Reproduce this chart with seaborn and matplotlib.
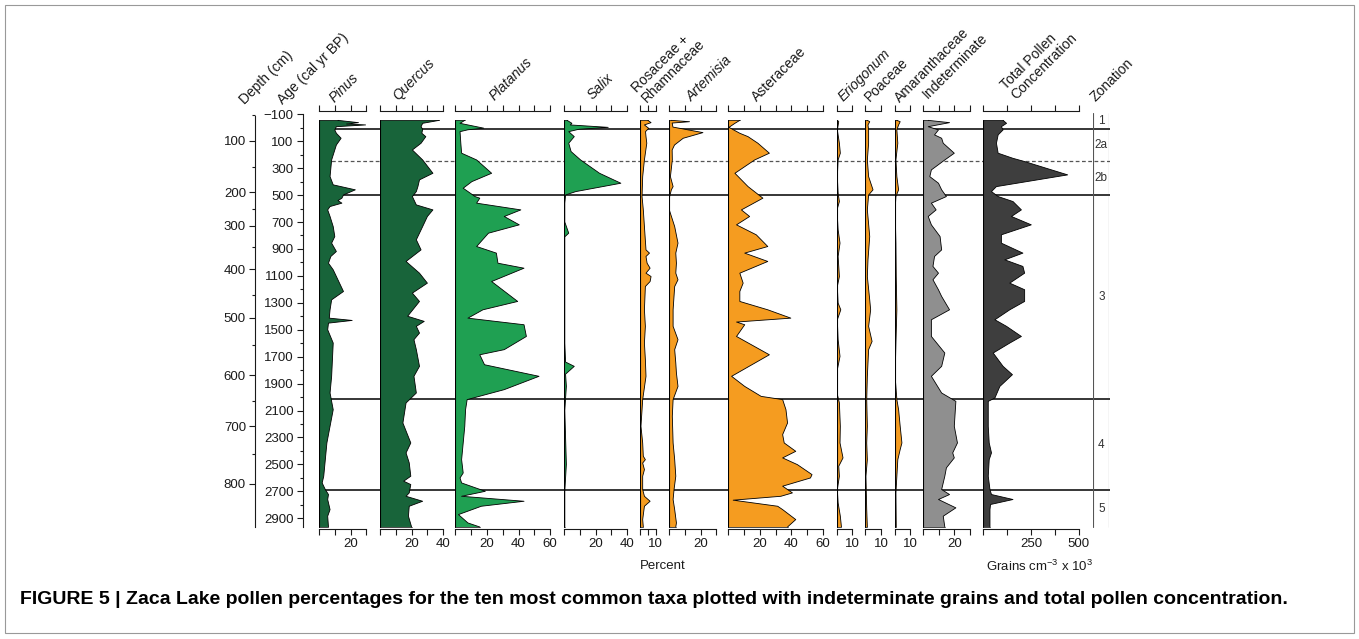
import numpy as np
import pandas as pd
import matplotlib
matplotlib.use("Agg")
import matplotlib.pyplot as plt
from matplotlib.patches import Rectangle
import seaborn as sns

sns.set_theme(style="white")
plt.rcParams['font.family'] = ['Liberation Sans', 'DejaVu Sans']
plt.rcParams['mathtext.fontset'] = 'custom'
plt.rcParams['mathtext.rm'] = 'Liberation Sans'
plt.rcParams['mathtext.it'] = 'Liberation Sans:italic'

# ---------------------------------------------------------------- data
# ages in cal yr BP, values in percent (total concentration in grains cm-3 x 10^3)
pinus_age = [-55, -38, -28, -21, -8, 16, 41, 78, 128, 239, 363, 424, 461, 499, 523, 541, 560, 585, 610, 659,
             734, 808, 857, 919, 956, 1006, 1055, 1216, 1278, 1352, 1414, 1431, 1451, 1500, 1599, 1846, 1970,
             2094, 2217, 2341, 2465, 2588, 2638, 2687, 2724, 2761, 2836, 2885, 2965]
pinus_pct = [12, 25, 17.5, 29.5, 11, 10, 11, 14, 11, 8, 7, 9, 23, 15.5, 14.5, 12, 14.5, 7, 5.5, 7,
             9, 10, 8, 11, 7.5, 6, 9, 15.5, 8, 7, 6.5, 21, 6, 5.5, 9, 8, 7,
             9, 7, 5, 4, 3, 2, 4, 6, 5.5, 7, 5.5, 6]

quercus_age = [-55, -33, -8, 11, 41, 66, 115, 165, 239, 338, 387, 437, 474, 511, 573, 610, 659, 734, 832, 907,
               993, 1080, 1154, 1228, 1290, 1400, 1438, 1475, 1525, 1574, 1648, 1772, 1846, 1970, 2044, 2193,
               2341, 2415, 2489, 2588, 2625, 2650, 2712, 2737, 2774, 2811, 2885, 2965]
quercus_pct = [37.5, 27, 26, 27, 26.5, 29, 26, 20.5, 27, 33.5, 25, 24, 23, 20.5, 23, 33.5, 30, 27, 23, 26,
               16.5, 25, 30, 20.5, 25, 17.5, 28, 23, 25, 21.5, 23, 25, 21.5, 23, 16.5, 14.5,
               19.5, 16.5, 18.5, 19.5, 15, 19.5, 18.5, 16.5, 27, 18.5, 18, 20]

platanus_age = [-55, -33, 3, 15, 29, 115, 189, 239, 338, 400, 449, 486, 511, 523, 560, 610, 659, 721, 783, 882,
                931, 1006, 1043, 1142, 1290, 1352, 1414, 1463, 1550, 1648, 1686, 1760, 1846, 1945, 2019, 2094,
                2217, 2341, 2465, 2564, 2601, 2638, 2700, 2737, 2774, 2811, 2873, 2935, 2965]
platanus_pct = [6, 3, 18, 8, 3, 3.5, 4, 13.5, 23, 10.5, 5, 9.5, 12.5, 15.5, 13.5, 41.5, 31, 40.5, 21, 13.5,
                26, 27, 43.5, 23, 39.5, 17.5, 8, 43.5, 45, 31, 15.5, 18.5, 53, 31, 7.5, 6.5,
                6, 5, 4, 5, 3, 4, 19, 4, 43.5, 16.5, 2, 8, 15.5]

salix_age = [-55, -33, -21, -3, 11, 29, 66, 115, 177, 239, 338, 412, 474, 499, 560, 700, 783, 810, 1000, 1300,
             1600, 1740, 1772, 1830, 1920, 2100, 2300, 2500, 2700, 2965]
salix_pct = [2, 5, 4, 28, 9.5, 3, 6.5, 3, 4.5, 10.5, 22.5, 36, 7.5, 1, 0.5, 0.5, 3, 0.5, 0.5, 0.5,
             0.5, 1, 6.5, 1, 1.5, 0.5, 1, 1.5, 0.5, 0.5]

rosrham_age = [-55, -38, -21, 4, 29, 66, 115, 239, 363, 511, 610, 734, 907, 931, 956, 1006, 1043, 1080, 1105,
               1142, 1179, 1352, 1475, 1599, 1722, 1846, 2019, 2094, 2217, 2341, 2440, 2465, 2490, 2539, 2588,
               2687, 2737, 2774, 2811, 2910, 2965]
rosrham_pct = [5, 7, 2.8, 5.5, 3.5, 3.8, 4.3, 2.8, 1.7, 1.3, 2.1, 2.8, 3.8, 6, 3.8, 4.5, 6.4, 3.8, 7,
               6.4, 3.4, 2.8, 3.4, 2.8, 3.4, 3.8, 1.7, 1.3, 0.6, 1.7, 2.1, 3.4, 1.7, 2.8, 1.7,
               1.7, 2.8, 6.4, 2.8, 1.7, 2.1]

artemisia_age = [-55, -45, -35, -5, 36, 78, 128, 165, 239, 363, 437, 461, 511, 610, 734, 857, 931, 1006, 1080,
                 1129, 1179, 1352, 1475, 1574, 1648, 1747, 1822, 1921, 2019, 2143, 2341, 2465, 2588, 2687,
                 2761, 2836, 2935, 2965]
artemisia_pct = [1.5, 13, 2, 2.5, 21.5, 9, 3.5, 2, 2.1, 0.9, 2.6, 1.5, 0.4, 0.2, 3.6, 5.7, 4.3, 4.7, 4.3,
                 5.7, 3.6, 2.6, 2.6, 5.7, 3.6, 4.3, 4.7, 5.7, 2.6, 2.1, 2.6, 3.6, 4.3, 3.2,
                 2.6, 3.6, 4.7, 4.3]

aster_age = [-55, -33, -3, 41, 66, 115, 189, 239, 338, 437, 523, 610, 659, 721, 795, 882, 931, 993, 1080, 1154,
             1216, 1290, 1352, 1414, 1443, 1463, 1550, 1686, 1846, 1921, 1995, 2019, 2094, 2193, 2279, 2341,
             2403, 2452, 2502, 2576, 2601, 2662, 2712, 2737, 2766, 2811, 2836, 2910, 2965]
aster_pct = [7.3, 4.2, 0.4, 7.3, 12.5, 18.75, 26, 16.7, 4.2, 12.5, 21.9, 8.3, 13.5, 5.2, 17.7, 25, 10.4, 25,
             7.3, 9.4, 7.3, 7.3, 25, 39.6, 5.2, 10.4, 5.2, 26, 2.1, 10.4, 20.8, 34.4, 36.5, 37.5, 34.4,
             35.4, 42.7, 34.4, 43.75, 53, 52, 34.4, 40.6, 33.3, 3.1, 31.25, 34.4, 42.7, 37.5]

erio_age = [-55, -45, 16, 115, 189, 239, 363, 486, 548, 610, 758, 857, 956, 1030, 1105, 1179, 1302, 1352, 1426,
            1574, 1698, 1797, 1970, 2044, 2217, 2341, 2452, 2514, 2588, 2687, 2786, 2885, 2965]
erio_pct = [0.5, 1.3, 0.4, 1.7, 2.3, 0.9, 0.4, 0.9, 1.7, 0.2, 0.9, 2.1, 0.9, 1.3, 1.7, 0.4, 0.9, 2.6, 0.4,
            0.9, 2.1, 0.4, 0.2, 1.7, 2.3, 2.1, 4, 1.3, 1.7, 0.4, 0.9, 2.3, 3]

poa_age = [-55, -45, -21, 16, 115, 239, 363, 461, 499, 610, 808, 981, 1105, 1278, 1352, 1475, 1587, 1648, 1846,
           2019, 2217, 2341, 2465, 2588, 2836, 2965]
poa_pct = [1.3, 2.8, 1.7, 2.1, 2.1, 1.3, 2.1, 4.9, 2.1, 1.3, 2.8, 1.7, 1.3, 2.8, 3.4, 2.1, 4.3, 2.1, 1.3,
           0.9, 1.3, 0.9, 1.3, 0.4, 0.9, 1.3]

amar_age = [-55, -45, -21, 16, 115, 239, 363, 461, 511, 610, 857, 1105, 1352, 1599, 1846, 2019, 2094, 2217,
            2341, 2390, 2465, 2588, 2712, 2965]
amar_pct = [1.5, 3.6, 2.6, 1.5, 2.1, 0.9, 1.5, 2.6, 0.9, 0.4, 0.9, 1.1, 1.5, 0.9, 0.4, 1.5, 2.6, 3.6,
            4.7, 3.6, 2.1, 1.5, 0.9, 1.1]

indet_age = [-55, -38, -8, 16, 53, 78, 115, 189, 239, 313, 363, 412, 461, 511, 560, 610, 659, 721, 808, 907,
             956, 1030, 1080, 1129, 1204, 1253, 1352, 1426, 1550, 1673, 1772, 1846, 1970, 2032, 2217, 2341,
             2415, 2452, 2526, 2588, 2687, 2724, 2761, 2823, 2885, 2965]
indet_pct = [3.5, 17, 3.5, 10, 7.5, 12, 13, 20, 14, 5.5, 4.5, 10, 12, 15, 5.5, 8.5, 3.5, 5.5, 11, 12,
             7.5, 6.5, 10, 6.5, 10, 12, 17, 5.5, 5.5, 14, 12, 5.5, 12, 21, 20, 22,
             19, 20, 15, 14, 12, 17, 10, 21, 13, 14]

total_age = [-55, -33, -8, 16, 53, 115, 189, 227, 251, 350, 437, 474, 511, 548, 610, 659, 721, 795, 857, 931,
             981, 1030, 1080, 1154, 1203, 1290, 1352, 1426, 1475, 1550, 1599, 1673, 1772, 1834, 1921, 2007,
             2032, 2094, 2217, 2341, 2415, 2465, 2588, 2687, 2724, 2761, 2798, 2836, 2965]
total_conc = [104, 122, 95, 104, 78, 69, 78, 156, 217, 443, 69, 43, 78, 156, 200, 148, 252, 95, 95, 208,
              113, 208, 217, 139, 217, 217, 139, 61, 122, 200, 139, 52, 104, 153, 87, 61,
              26, 26, 26, 31, 43, 31, 26, 35, 43, 156, 38, 35, 35]

# depth (cm) against age for the depth scale
depth_cm = [50, 100, 150, 200, 250, 300, 350, 400, 450, 500, 550, 600, 650, 700, 750, 800]
depth_age = [-95, 96, 290, 480, 604, 728, 884, 1052, 1244, 1412, 1615, 1838, 2029, 2218, 2426, 2644]

age_ticks = list(range(-100, 3000, 200))
zone_bounds = [10, 500, 2015, 2690]
zone_sub = [250]
zone_names = ["1", "2a", "2b", "3", "4", "5"]
zone_edges = [-110, 10, 250, 500, 2015, 2690, 2968]

# ---------------------------------------------------------------- layout
W, H = 1359, 639
Y_TOP, Y_BOT = 111, 529
AGE_TOP, AGE_BOT = -124.5, 2980
PX = 1.58  # pixels per percent

fig = plt.figure(figsize=(W / 100, H / 100), dpi=100)
fig.patch.set_facecolor("white")


def fig_rect(x0, x1, y0=Y_TOP, y1=Y_BOT):
    return [x0 / W, 1 - y1 / H, (x1 - x0) / W, (y1 - y0) / H]


DKGREEN = "#18643a"
GREEN = "#1fa052"
ORANGE = "#f59c20"
GREY = "#8f8f8f"
DARK = "#3e3e3e"
INK = "#1a1a1a"

panels = [
    # age, values, left px, xmax, px per unit, fill, ticks, labelled ticks
    (pinus_age, pinus_pct, 319.0, 30, PX, DKGREEN, [0, 10, 20, 30], [20]),
    (quercus_age, quercus_pct, 380.0, 40, PX, DKGREEN, [0, 10, 20, 30, 40], [20, 40]),
    (platanus_age, platanus_pct, 455.3, 60, PX, GREEN, [0, 10, 20, 30, 40, 50, 60], [20, 40, 60]),
    (salix_age, salix_pct, 564.0, 40, PX, GREEN, [0, 10, 20, 30, 40], [20, 40]),
    (rosrham_age, rosrham_pct, 640.0, 10, PX, ORANGE, [0, 5, 10], [10]),
    (artemisia_age, artemisia_pct, 669.0, 30, PX, ORANGE, [0, 10, 20, 30], [20]),
    (aster_age, aster_pct, 728.3, 60, PX, ORANGE, [0, 10, 20, 30, 40, 50, 60], [20, 40, 60]),
    (erio_age, erio_pct, 836.7, 10, PX, ORANGE, [0, 10], [10]),
    (poa_age, poa_pct, 865.3, 10, PX, ORANGE, [0, 10], [10]),
    (amar_age, amar_pct, 894.5, 10, PX, ORANGE, [0, 10], [10]),
    (indet_age, indet_pct, 922.7, 30, PX, GREY, [0, 10, 20, 30], [20]),
    (total_age, total_conc, 983.3, 500, 0.1905, DARK, [0, 125, 250, 375, 500], [250, 500]),
]

# zone boundaries run behind all panels
bg = fig.add_axes(fig_rect(319, 1109.5), zorder=0)
bg.set_xlim(0, 1)
bg.set_ylim(AGE_BOT, AGE_TOP)
bg.axis("off")
for a in zone_bounds:
    bg.axhline(a, color="black", lw=1.1)
for a in zone_sub:
    bg.axhline(a, color="#555555", lw=0.9, ls=(0, (3, 2)))

for age, vals, left, xmax, ppu, color, ticks, labelled in panels:
    ax = fig.add_axes(fig_rect(left, left + xmax * ppu), zorder=2)
    ax.patch.set_alpha(0)
    df = pd.DataFrame({"age": age, "value": vals})
    ax.fill_betweenx(df["age"], 0, df["value"], facecolor=color, edgecolor="none", lw=0, zorder=2)
    sns.lineplot(data=df, x="value", y="age", orient="y", sort=False, estimator=None,
                 color="black", lw=0.6, ax=ax, zorder=3)
    ax.plot([0, 0], [age[0], age[-1]], color="black", lw=0.8, zorder=3)
    ax.plot([0, vals[0]], [age[0], age[0]], color="black", lw=0.5, zorder=3)
    ax.plot([0, vals[-1]], [age[-1], age[-1]], color="black", lw=0.5, zorder=3)
    ax.set_xlim(0, xmax)
    ax.set_ylim(AGE_BOT, AGE_TOP)
    ax.set_xlabel("")
    ax.set_ylabel("")
    ax.set_yticks([])
    for s in ("left", "right"):
        ax.spines[s].set_visible(False)
    for s in ("top", "bottom"):
        ax.spines[s].set_visible(True)
        ax.spines[s].set_color(INK)
        ax.spines[s].set_linewidth(0.8)
    ax.set_xticks(ticks)
    ax.set_xticklabels([str(t) if t in labelled else "" for t in ticks])
    ax.tick_params(axis="x", which="major", bottom=True, top=True, direction="out",
                   length=4.5, width=0.8, color=INK, labelsize=9.5, pad=2,
                   labelcolor=INK)
    ax.grid(False)

# age scale
age_ax = fig.add_axes(fig_rect(302.7, 320), zorder=2)
age_ax.patch.set_alpha(0)
age_ax.set_ylim(AGE_BOT, AGE_TOP)
age_ax.set_xticks([])
for s in ("top", "right", "bottom"):
    age_ax.spines[s].set_visible(False)
age_ax.spines["left"].set_bounds(-100, 2968)
age_ax.spines["left"].set_color(INK)
age_ax.spines["left"].set_linewidth(0.8)
age_ax.set_yticks(age_ticks)
age_ax.set_yticks([t + 100 for t in age_ticks[:-1]], minor=True)
age_ax.tick_params(axis="y", which="major", left=True, length=4.5, width=0.8, color=INK,
                   labelsize=9.5, pad=2, labelcolor=INK)
age_ax.tick_params(axis="y", which="minor", left=True, length=2.5, width=0.8, color=INK)

# depth scale
dep_ax = fig.add_axes(fig_rect(255, 270), zorder=2)
dep_ax.patch.set_alpha(0)
dep_ax.set_ylim(AGE_BOT, AGE_TOP)
dep_ax.set_xticks([])
for s in ("top", "right", "bottom"):
    dep_ax.spines[s].set_visible(False)
dep_ax.spines["left"].set_bounds(-85, 2968)
dep_ax.spines["left"].set_color(INK)
dep_ax.spines["left"].set_linewidth(0.8)
major = [(d, a) for d, a in zip(depth_cm, depth_age) if d % 100 == 0]
minor = [(d, a) for d, a in zip(depth_cm, depth_age) if d % 100 != 0]
dep_ax.set_yticks([a for _, a in major])
dep_ax.set_yticklabels([str(d) for d, _ in major])
dep_ax.set_yticks([a for _, a in minor], minor=True)
dep_ax.tick_params(axis="y", which="major", left=True, length=4.5, width=0.8, color=INK,
                   labelsize=9.5, pad=2, labelcolor=INK)
dep_ax.tick_params(axis="y", which="minor", left=True, length=2.5, width=0.8, color=INK)

# zonation column
zax = fig.add_axes(fig_rect(1093.3, 1109.3), zorder=2)
zax.patch.set_alpha(0)
zax.set_xlim(0, 1)
zax.set_ylim(AGE_BOT, AGE_TOP)
zax.axis("off")
zax.plot([0, 0], [zone_edges[0], zone_edges[-1]], color="#555555", lw=0.8)
zax.plot([1, 1], [zone_edges[0], zone_edges[-1]], color="#555555", lw=0.8)
for name, a0, a1 in zip(zone_names, zone_edges[:-1], zone_edges[1:]):
    zax.text(0.5, (a0 + a1) / 2, name, ha="center", va="center", fontsize=8.5, color="#333333")

# column headings
headings = [
    ("Depth (cm)", 245, 105, "normal"),
    ("Age (cal yr BP)", 283, 105, "normal"),
    ("Pinus", 335, 103, "italic"),
    ("Quercus", 398, 101, "italic"),
    ("Platanus", 495, 101, "italic"),
    ("Salix", 593, 100, "italic"),
    ("Rosaceae +\nRhamnaceae", 647, 103, "normal"),
    ("Artemisia", 692, 102, "italic"),
    ("Asteraceae", 757, 102, "normal"),
    ("Eriogonum", 843, 102, "italic"),
    ("Poaceae", 870, 102, "normal"),
    ("Amaranthaceae", 900, 103, "normal"),
    ("Indeterminate", 928, 99, "normal"),
    ("Total Pollen\nConcentration", 1016, 100, "normal"),
    ("Zonation", 1095, 102, "normal"),
]
for txt, x, y, style in headings:
    fig.text(x / W, 1 - y / H, txt, rotation=45, rotation_mode="anchor", ha="left", va="baseline",
             fontsize=10, style=style, color=INK, linespacing=1.0)

fig.text(663 / W, 1 - 566 / H, "Percent", ha="center", va="center", fontsize=9.5, color=INK)
fig.text(1040 / W, 1 - 566 / H, r"Grains cm$^{-3}$ x 10$^{3}$", ha="center", va="center",
         fontsize=9.5, color=INK)

fig.text(20 / W, 1 - 600 / H,
         "FIGURE 5 | Zaca Lake pollen percentages for the ten most common taxa plotted with "
         "indeterminate grains and total pollen concentration.",
         ha="left", va="center", fontsize=14, weight="bold", color="black")

fig.patches.append(Rectangle((5 / W, 1 - 633 / H), 1349 / W, 628 / H, transform=fig.transFigure,
                             fill=False, edgecolor="#999999", lw=0.8))

fig.savefig("out.png", dpi=100, facecolor="white")
